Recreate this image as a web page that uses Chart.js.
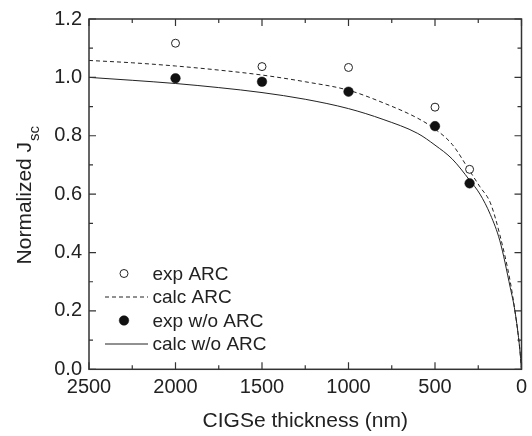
<!DOCTYPE html>
<html>
<head>
<meta charset="utf-8">
<script src="https://cdn.jsdelivr.net/npm/chart.js@4/dist/chart.umd.min.js"></script>
<style>
  html, body { margin: 0; padding: 0; background: #fff; }
  #wrap { width: 532px; height: 436px; }
</style>
</head>
<body>
<div id="wrap"><canvas id="c" width="532" height="436"></canvas></div>
<script>
// ---- data ----
const thicknessExp = [2000, 1500, 1000, 500, 300];
const expARC = [1.117, 1.037, 1.034, 0.898, 0.685];
const expNoARC = [0.997, 0.985, 0.951, 0.833, 0.637];

const thicknessCalc = [2500, 2250, 2000, 1750, 1500, 1250, 1000, 800, 600, 500, 400, 300, 240, 180, 125, 65, 38, 10, 0];
const calcARC = [1.058, 1.050, 1.039, 1.025, 1.008, 0.985, 0.956, 0.913, 0.860, 0.823, 0.770, 0.680, 0.625, 0.570, 0.460, 0.300, 0.200, 0.070, 0];
const calcNoARC = [1.000, 0.990, 0.979, 0.965, 0.948, 0.925, 0.893, 0.856, 0.808, 0.768, 0.720, 0.648, 0.600, 0.530, 0.440, 0.280, 0.200, 0.070, 0];

const seriesLabels = ["exp ARC", "calc ARC", "exp w/o ARC", "calc w/o ARC"];
const xMajorTicks = [0, 500, 1000, 1500, 2000, 2500];
const xMinorTicks = [250, 750, 1250, 1750, 2250];
const yMajorTicks = [0, 0.2, 0.4, 0.6, 0.8, 1.0, 1.2];
const yMinorTicks = [0.1, 0.3, 0.5, 0.7, 0.9, 1.1];
const xTitle = "CIGSe thickness (nm)";
const yTitleMain = "Normalized J";
const yTitleSub = "sc";

const FONT = "'Liberation Sans', Arial, Helvetica, sans-serif";
const INK = "#222";
const AXIS = "#333";

const toXY = (xs, ys) => xs.map((x, i) => ({ x: x, y: ys[i] }));

const framePlugin = {
  id: 'frame',
  afterDraw(chart) {
    const { ctx, chartArea: a, scales: { x, y } } = chart;
    ctx.save();
    ctx.strokeStyle = AXIS;
    ctx.lineWidth = 1.5;
    ctx.strokeRect(a.left, a.top, a.right - a.left, a.bottom - a.top);
    ctx.lineWidth = 1.2;
    ctx.beginPath();
    const tick = (vals, len, isX) => {
      vals.forEach(v => {
        if (isX) {
          const px = x.getPixelForValue(v);
          ctx.moveTo(px, a.bottom); ctx.lineTo(px, a.bottom - len);
          ctx.moveTo(px, a.top); ctx.lineTo(px, a.top + len);
        } else {
          const py = y.getPixelForValue(v);
          ctx.moveTo(a.left, py); ctx.lineTo(a.left + len, py);
          ctx.moveTo(a.right, py); ctx.lineTo(a.right - len, py);
        }
      });
    };
    tick(xMajorTicks, 7, true);
    tick(xMinorTicks, 4, true);
    tick(yMajorTicks, 7, false);
    tick(yMinorTicks, 4, false);
    ctx.stroke();

    // y-axis title with subscript
    ctx.fillStyle = INK;
    ctx.font = "21px " + FONT;
    const w1 = ctx.measureText(yTitleMain).width;
    ctx.font = "15px " + FONT;
    const w2 = ctx.measureText(yTitleSub).width;
    const total = w1 + 1 + w2;
    ctx.translate(31, (a.top + a.bottom) / 2 + 1);
    ctx.rotate(-Math.PI / 2);
    ctx.textBaseline = 'alphabetic';
    ctx.textAlign = 'left';
    ctx.font = "21px " + FONT;
    ctx.fillText(yTitleMain, -total / 2, 0);
    ctx.font = "15px " + FONT;
    ctx.fillText(yTitleSub, -total / 2 + w1 + 1, 8);
    ctx.restore();

    // legend
    ctx.save();
    const rows = [273.5, 297, 320.5, 344];
    const symX = 124, lx0 = 105, lx1 = 148, tx = 152.5;
    ctx.font = "19px " + FONT;
    ctx.textBaseline = 'middle';
    ctx.textAlign = 'left';
    chart.data.datasets.forEach((ds, i) => {
      const ry = rows[i];
      ctx.strokeStyle = INK;
      ctx.fillStyle = INK;
      if (ds.showLine) {
        ctx.lineWidth = ds.borderWidth;
        ctx.setLineDash(ds.borderDash || []);
        ctx.beginPath();
        ctx.moveTo(lx0, ry); ctx.lineTo(lx1, ry);
        ctx.stroke();
        ctx.setLineDash([]);
      } else {
        ctx.beginPath();
        ctx.arc(symX, ry, ds.pointRadius, 0, Math.PI * 2);
        ctx.fillStyle = ds.pointBackgroundColor;
        ctx.fill();
        ctx.lineWidth = ds.pointBorderWidth;
        ctx.strokeStyle = ds.pointBorderColor;
        ctx.stroke();
      }
      ctx.fillStyle = INK;
      ctx.fillText(ds.label, tx, ry + 1);
    });
    ctx.restore();
  }
};

new Chart(document.getElementById('c'), {
  type: 'scatter',
  data: {
    datasets: [
      {
        label: seriesLabels[0],
        data: toXY(thicknessExp, expARC),
        showLine: false,
        pointRadius: 4,
        pointBorderWidth: 1,
        pointBorderColor: INK,
        pointBackgroundColor: '#fff',
        order: 0
      },
      {
        label: seriesLabels[1],
        data: toXY(thicknessCalc, calcARC),
        showLine: true,
        borderColor: INK,
        borderWidth: 1,
        borderDash: [4, 3],
        pointRadius: 0,
        cubicInterpolationMode: 'monotone',
        order: 1
      },
      {
        label: seriesLabels[2],
        data: toXY(thicknessExp, expNoARC),
        showLine: false,
        pointRadius: 4.8,
        pointBorderWidth: 0.5,
        pointBorderColor: '#111',
        pointBackgroundColor: '#111',
        order: 0
      },
      {
        label: seriesLabels[3],
        data: toXY(thicknessCalc, calcNoARC),
        showLine: true,
        borderColor: INK,
        borderWidth: 1,
        pointRadius: 0,
        cubicInterpolationMode: 'monotone',
        order: 1
      }
    ]
  },
  options: {
    responsive: false,
    animation: false,
    layout: { padding: { top: 16, right: 10.5, left: 0, bottom: 0 } },
    plugins: { legend: { display: false }, tooltip: { enabled: false } },
    scales: {
      x: {
        type: 'linear',
        reverse: true,
        min: 0,
        max: 2500,
        afterBuildTicks: (s) => { s.ticks = xMajorTicks.map(v => ({ value: v })); },
        afterFit: (s) => { s.height = 66.7; },
        grid: { display: false, drawTicks: false },
        border: { display: false },
        ticks: { color: INK, font: { size: 20, family: FONT }, padding: 6, maxRotation: 0, autoSkip: false, callback: (v) => String(v) },
        title: { display: true, text: xTitle, color: INK, font: { size: 21, family: FONT }, padding: { top: 0, bottom: 2 } }
      },
      y: {
        min: 0,
        max: 1.2,
        afterBuildTicks: (s) => { s.ticks = yMajorTicks.map(v => ({ value: v })); },
        afterFit: (s) => { s.width = 89; },
        grid: { display: false, drawTicks: false },
        border: { display: false },
        ticks: { color: INK, font: { size: 20, family: FONT }, padding: 7, callback: (v) => Number(v).toFixed(1) }
      }
    }
  },
  plugins: [framePlugin]
});
</script>
</body>
</html>
